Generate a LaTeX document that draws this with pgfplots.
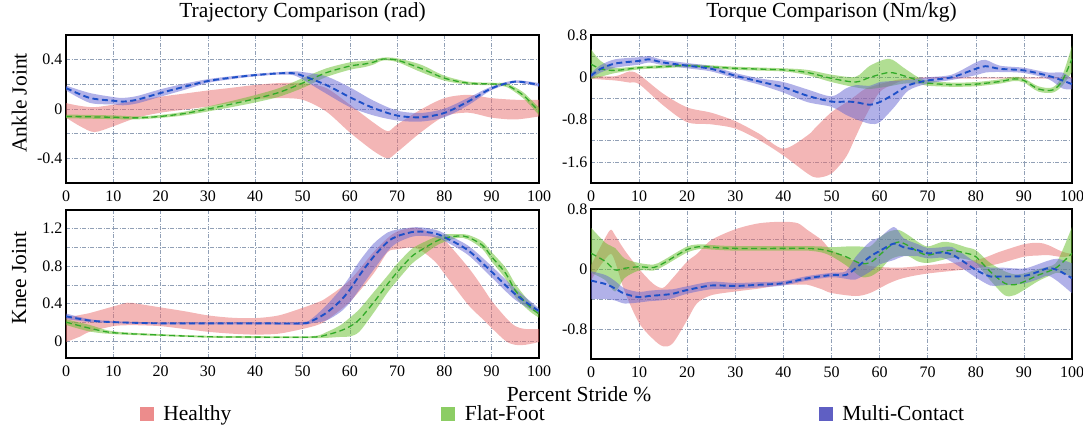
\documentclass[border=0pt]{standalone}
\usepackage{fontspec}
\setmainfont{Liberation Serif}
\usepackage{pgfplots}
\pgfplotsset{compat=1.18}
\usepackage{pgfplotstable}
\usepgfplotslibrary{fillbetween}

\definecolor{hfill}{RGB}{232,110,110}
\definecolor{ffill}{RGB}{100,190,40}
\definecolor{mfill}{RGB}{100,100,210}
\definecolor{fline}{RGB}{50,170,40}
\definecolor{mline}{RGB}{30,80,200}
\definecolor{gridc}{RGB}{145,160,182}
\definecolor{hleg}{RGB}{236,140,140}
\definecolor{fleg}{RGB}{140,205,100}
\definecolor{mleg}{RGB}{95,95,195}

% ---------------- Ankle trajectory ----------------
\pgfplotstableread{
x lo hi
0 -0.07 0.048
3 -0.14 0.025
6 -0.187 0.015
10 -0.14 0.035
15 -0.07 0.07
20 -0.03 0.10
25 -0.005 0.125
30 0.02 0.15
35 0.05 0.172
40 0.08 0.195
45 0.088 0.21
50 0.075 0.21
55 -0.02 0.17
60 -0.19 0.035
65 -0.34 -0.11
68 -0.40 -0.18
70 -0.35 -0.126
75 -0.19 -0.005
80 -0.06 0.088
85 -0.03 0.115
90 -0.07 0.088
95 -0.085 0.075
100 -0.06 0.075
}\AH
\pgfplotstableread{
x m lo hi
0 -0.06 -0.075 -0.045
10 -0.067 -0.082 -0.052
15 -0.072 -0.084 -0.06
20 -0.06 -0.072 -0.048
25 -0.037 -0.052 -0.022
30 0.0 -0.02 0.02
35 0.04 0.015 0.065
40 0.083 0.053 0.113
45 0.134 0.099 0.169
50 0.21 0.17 0.25
55 0.294 0.259 0.329
60 0.348 0.318 0.378
63 0.364 0.339 0.389
65 0.38 0.36 0.40
67 0.405 0.393 0.417
70 0.396 0.381 0.411
75 0.33 0.30 0.36
80 0.25 0.23 0.27
85 0.21 0.198 0.222
90 0.203 0.193 0.213
93 0.195 0.18 0.21
95 0.155 0.135 0.175
97 0.10 0.075 0.125
100 -0.02 -0.05 0.01
}\AF
\pgfplotstableread{
x m lo hi
0 0.17 0.15 0.19
5 0.09 0.05 0.13
10 0.067 0.037 0.097
12 0.06 0.03 0.09
15 0.075 0.045 0.105
20 0.13 0.10 0.16
25 0.18 0.155 0.205
30 0.227 0.212 0.242
35 0.254 0.242 0.266
40 0.275 0.265 0.285
45 0.289 0.279 0.299
48 0.29 0.275 0.305
50 0.27 0.24 0.30
55 0.195 0.125 0.265
60 0.096 0.016 0.176
65 0.008 -0.052 0.068
70 -0.053 -0.093 -0.013
75 -0.067 -0.102 -0.032
80 -0.032 -0.067 0.003
85 0.06 0.03 0.09
90 0.168 0.153 0.183
95 0.222 0.212 0.232
100 0.195 0.18 0.21
}\AM

% ---------------- Ankle torque ----------------
\pgfplotstableread{
x lo hi
0 -0.03 0.03
5 -0.06 0.02
8 -0.10 0.11
10 -0.13 0.05
15 -0.53 -0.31
20 -0.85 -0.57
25 -0.89 -0.67
30 -0.97 -0.83
35 -1.19 -1.07
40 -1.48 -1.35
45 -1.82 -1.10
47 -1.90 -0.92
50 -1.82 -0.66
53 -1.51 -0.48
55 -1.13 -0.35
57 -0.75 -0.22
60 -0.28 -0.13
63 -0.13 -0.06
65 -0.06 -0.03
70 -0.025 0.0
80 -0.025 0.0
90 -0.025 0.0
100 -0.025 0.0
}\BH
\pgfplotstableread{
x m lo hi
0 0.25 -0.03 0.53
2 0.16 0.01 0.31
5 0.13 0.08 0.18
10 0.18 0.15 0.21
15 0.20 0.17 0.23
20 0.22 0.19 0.25
30 0.17 0.14 0.20
40 0.14 0.11 0.17
45 0.09 0.04 0.14
50 -0.02 -0.09 0.05
55 -0.09 -0.19 0.01
58 0.0 -0.22 0.22
62 0.09 -0.17 0.35
65 0.03 -0.12 0.18
68 -0.06 -0.12 0.0
70 -0.11 -0.16 -0.06
75 -0.14 -0.18 -0.10
80 -0.13 -0.17 -0.09
85 -0.08 -0.12 -0.04
88 -0.03 -0.07 0.01
90 -0.06 -0.10 -0.02
93 -0.22 -0.27 -0.17
96 -0.24 -0.29 -0.19
98 -0.06 -0.16 0.04
100 0.35 0.10 0.60
}\BF
\pgfplotstableread{
x m lo hi
0 0.03 -0.02 0.08
2 0.16 0.09 0.23
5 0.26 0.18 0.34
10 0.31 0.24 0.38
12 0.34 0.28 0.40
15 0.28 0.23 0.33
20 0.22 0.17 0.27
25 0.16 0.11 0.21
30 0.03 -0.02 0.08
35 -0.08 -0.14 -0.02
40 -0.19 -0.29 -0.09
45 -0.35 -0.47 -0.23
50 -0.46 -0.56 -0.36
53 -0.46 -0.71 -0.21
55 -0.47 -0.79 -0.15
58 -0.52 -0.88 -0.16
60 -0.47 -0.85 -0.09
63 -0.32 -0.57 -0.07
66 -0.15 -0.25 -0.05
70 -0.06 -0.12 0.0
75 0.0 -0.05 0.05
80 0.16 0.04 0.28
82 0.21 0.09 0.33
85 0.16 0.10 0.22
90 0.13 0.08 0.18
95 0.03 -0.03 0.09
98 -0.06 -0.21 0.09
100 -0.13 -0.23 -0.03
}\BM

% ---------------- Knee trajectory ----------------
\pgfplotstableread{
x lo hi
0 -0.01 0.25
3 0.05 0.28
5 0.10 0.30
10 0.16 0.37
13 0.17 0.41
15 0.17 0.40
20 0.16 0.36
25 0.13 0.32
30 0.10 0.275
35 0.08 0.25
40 0.07 0.246
45 0.08 0.275
50 0.13 0.355
53 0.17 0.41
55 0.22 0.46
60 0.42 0.65
65 0.72 0.95
68 0.95 1.10
70 0.98 1.17
73 1.00 1.21
75 0.97 1.20
78 0.85 1.13
80 0.72 1.08
85 0.39 0.79
88 0.24 0.58
90 0.14 0.43
93 0.0 0.25
95 -0.04 0.16
97 -0.04 0.13
100 -0.01 0.13
}\CH
\pgfplotstableread{
x m lo hi
0 0.203 0.173 0.233
5 0.138 0.103 0.173
10 0.09 0.075 0.105
20 0.065 0.055 0.075
30 0.047 0.037 0.057
40 0.043 0.033 0.053
52 0.043 0.033 0.053
55 0.065 0.035 0.095
58 0.11 0.045 0.17
60 0.156 0.05 0.25
62 0.23 0.10 0.34
65 0.41 0.30 0.52
68 0.61 0.52 0.70
70 0.735 0.645 0.825
73 0.90 0.82 0.98
75 0.97 0.90 1.04
78 1.06 1.01 1.11
80 1.10 1.06 1.14
83 1.123 1.103 1.143
85 1.11 1.085 1.135
88 1.025 0.985 1.065
90 0.90 0.85 0.95
93 0.72 0.66 0.78
95 0.54 0.47 0.61
98 0.37 0.32 0.42
100 0.29 0.25 0.33
}\CF
\pgfplotstableread{
x m lo hi
0 0.265 0.235 0.295
5 0.22 0.205 0.235
10 0.203 0.193 0.213
20 0.19 0.18 0.20
30 0.19 0.18 0.20
40 0.19 0.18 0.20
50 0.19 0.175 0.205
52 0.217 0.192 0.242
55 0.30 0.22 0.38
58 0.43 0.31 0.55
60 0.55 0.41 0.69
62 0.70 0.55 0.85
65 0.90 0.76 1.04
68 1.06 0.96 1.16
70 1.12 1.05 1.19
73 1.163 1.113 1.213
75 1.17 1.125 1.215
78 1.15 1.11 1.19
80 1.11 1.07 1.15
85 0.97 0.92 1.02
90 0.74 0.68 0.80
95 0.50 0.44 0.56
100 0.32 0.29 0.35
}\CM

% ---------------- Knee torque ----------------
\pgfplotstableread{
x lo hi
0 -0.15 0.05
2 0.05 0.30
4 0.20 0.52
5 0.10 0.45
7 -0.30 0.25
10 -0.72 0.0
13 -0.94 -0.20
15 -1.03 -0.25
17 -0.99 -0.12
20 -0.68 0.10
22 -0.46 0.20
25 -0.35 0.385
30 -0.30 0.53
35 -0.26 0.61
40 -0.21 0.63
43 -0.21 0.61
45 -0.21 0.52
48 -0.27 0.385
50 -0.32 0.25
55 -0.36 0.10
58 -0.32 0.04
62 -0.19 0.02
65 -0.12 0.02
70 -0.06 0.05
80 0.01 0.12
85 0.075 0.23
90 0.164 0.33
93 0.18 0.35
95 0.186 0.32
98 0.16 0.23
100 0.18 0.20
}\DH
\pgfplotstableread{
x m lo hi
0 0.21 -0.05 0.55
3 0.10 -0.15 0.35
5 -0.013 -0.30 0.28
7 0.01 -0.12 0.14
10 0.03 -0.02 0.08
13 0.02 -0.02 0.06
15 0.075 0.035 0.115
20 0.26 0.22 0.30
23 0.30 0.27 0.33
25 0.29 0.26 0.32
30 0.275 0.245 0.305
40 0.275 0.245 0.305
45 0.275 0.245 0.305
48 0.26 0.22 0.30
50 0.23 0.17 0.29
53 0.164 0.05 0.30
56 0.075 -0.10 0.30
58 0.084 -0.10 0.30
60 0.186 -0.02 0.42
62 0.30 0.12 0.50
64 0.36 0.17 0.52
66 0.31 0.17 0.45
68 0.23 0.10 0.36
70 0.186 0.08 0.30
73 0.23 0.12 0.36
75 0.25 0.15 0.35
78 0.21 0.13 0.29
80 0.164 0.08 0.25
83 -0.035 -0.15 0.08
86 -0.19 -0.35 -0.03
88 -0.21 -0.35 -0.07
90 -0.17 -0.28 -0.06
93 -0.08 -0.16 0.0
95 -0.035 -0.10 0.03
97 0.03 -0.05 0.11
100 0.21 -0.10 0.56
}\DF
\pgfplotstableread{
x m lo hi
0 -0.155 -0.40 -0.03
3 -0.20 -0.40 -0.08
5 -0.26 -0.42 -0.16
7 -0.33 -0.46 -0.26
10 -0.376 -0.446 -0.306
12 -0.36 -0.43 -0.29
15 -0.345 -0.415 -0.275
17 -0.33 -0.39 -0.27
20 -0.28 -0.33 -0.23
25 -0.22 -0.27 -0.17
30 -0.226 -0.266 -0.186
35 -0.21 -0.245 -0.175
40 -0.19 -0.22 -0.16
45 -0.124 -0.154 -0.094
50 -0.08 -0.11 -0.05
53 -0.08 -0.13 -0.03
55 0.01 -0.14 0.16
58 0.164 -0.036 0.364
60 0.24 0.06 0.42
63 0.34 0.12 0.56
65 0.29 0.17 0.41
68 0.25 0.17 0.33
70 0.21 0.14 0.28
73 0.22 0.15 0.29
75 0.195 0.095 0.295
78 0.075 -0.025 0.175
80 -0.013 -0.113 0.087
83 -0.10 -0.22 0.02
85 -0.10 -0.22 0.02
90 -0.093 -0.193 0.007
93 -0.035 -0.135 0.065
95 0.01 -0.09 0.11
97 -0.013 -0.163 0.137
100 -0.124 -0.324 0.076
}\DM

\newcommand{\band}[3]{%
  \addplot[draw=none, smooth, name path=L#3, forget plot] table[x=x,y=lo]{#1};
  \addplot[draw=none, smooth, name path=H#3, forget plot] table[x=x,y=hi]{#1};
  \addplot[fill=#2, fill opacity=0.5, draw=none, forget plot] fill between[of=L#3 and H#3];
}
\newcommand{\meanline}[3]{%
  \addplot[#2, line width=#3, dash pattern=on 6pt off 3.5pt, smooth, forget plot] table[x=x,y=m]{#1};
}

\pgfplotsset{
  panel/.style={
    scale only axis, width=473pt, height=148pt,
    xmin=0, xmax=100, xtick={0,10,...,100},
    axis line style={line width=1.5pt},
    major tick length=0pt, minor tick length=0pt,
    grid=both,
    major grid style={gridc, line width=0.6pt, dash pattern=on 4pt off 1.5pt on 1pt off 1.5pt},
    minor grid style={gridc, line width=0.6pt, dash pattern=on 4pt off 1.5pt on 1pt off 1.5pt},
    tick label style={font=\fontsize{16}{18}\selectfont},
    /pgf/number format/assume math mode=true,
    xticklabel style={yshift=-4pt},
    label style={font=\fontsize{21.5}{24}\selectfont},
    title style={font=\fontsize{21.5}{24}\selectfont, at={(axis description cs:0.5,1.115)}, anchor=center},
    ylabel style={at={(axis description cs:-0.099,0.54)}, anchor=center},
  },
}

\begin{document}
\begin{tikzpicture}

% Top-left
\begin{axis}[panel, at={(66pt,241pt)}, anchor=south west,
  ymin=-0.6, ymax=0.6, ytick={-0.4,0,0.4}, minor ytick={-0.2,0.2},
  title={Trajectory Comparison (rad)}, ylabel={Ankle Joint}]
  \band{\AH}{hfill}{a}
  \band{\AF}{ffill}{b}
  \band{\AM}{mfill}{c}
  \meanline{\AF}{fline}{1.3pt}
  \meanline{\AM}{mline}{1.9pt}
\end{axis}

% Top-right
\begin{axis}[panel, width=481pt, at={(591pt,241pt)}, anchor=south west,
  ymin=-2, ymax=0.8, ytick={-1.6,-0.8,0,0.8}, minor ytick={-1.2,-0.4,0.4},
  title={Torque Comparison (Nm/kg)}]
  \band{\BH}{hfill}{a}
  \band{\BF}{ffill}{b}
  \band{\BM}{mfill}{c}
  \meanline{\BF}{fline}{1.3pt}
  \meanline{\BM}{mline}{1.9pt}
\end{axis}

% Bottom-left
\begin{axis}[panel, at={(66pt,66pt)}, anchor=south west,
  ymin=-0.18, ymax=1.4, ytick={0,0.4,0.8,1.2}, minor ytick={0.2,0.6,1.0},
  ylabel={Knee Joint},
  legend columns=3,
  legend style={at={(axis description cs:0.156,-0.375)}, anchor=west,
    draw=none, fill=none, inner sep=0pt,
    font=\fontsize{21.5}{24}\selectfont,
    /tikz/column 1/.style={column sep=8pt},
    /tikz/column 3/.style={column sep=8pt},
    /tikz/column 5/.style={column sep=8pt},
    /tikz/column 2/.style={column sep=208pt},
    /tikz/column 4/.style={column sep=272pt}}]
  \band{\CH}{hfill}{a}
  \band{\CF}{ffill}{b}
  \band{\CM}{mfill}{c}
  \meanline{\CF}{fline}{1.3pt}
  \meanline{\CM}{mline}{1.9pt}
  \addlegendimage{legend image code/.code={\fill[hleg] (0pt,-6.5pt) rectangle (13pt,6.5pt);}}
  \addlegendentry{Healthy}
  \addlegendimage{legend image code/.code={\fill[fleg] (0pt,-6.5pt) rectangle (13pt,6.5pt);}}
  \addlegendentry{Flat-Foot}
  \addlegendimage{legend image code/.code={\fill[mleg] (0pt,-6.5pt) rectangle (13pt,6.5pt);}}
  \addlegendentry{Multi-Contact}
\end{axis}

% Bottom-right
\begin{axis}[panel, width=481pt, height=150pt, at={(591pt,65pt)}, anchor=south west,
  ymin=-1.2, ymax=0.8, ytick={-0.8,0,0.8}, minor ytick={-0.4,0.4}]
  \band{\DH}{hfill}{a}
  \band{\DF}{ffill}{b}
  \band{\DM}{mfill}{c}
  \meanline{\DF}{fline}{1.3pt}
  \meanline{\DM}{mline}{1.9pt}
\end{axis}

\node[font=\fontsize{21.5}{24}\selectfont, anchor=base] at (579pt,23pt) {Percent Stride \%};

\pgfresetboundingbox
\useasboundingbox (0pt,0pt) rectangle (1083pt,424pt);
\end{tikzpicture}
\end{document}
